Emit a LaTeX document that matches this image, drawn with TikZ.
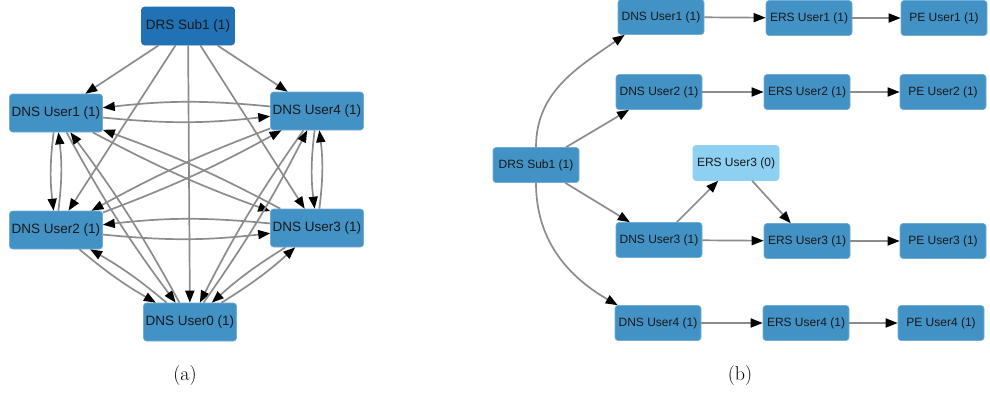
\documentclass[tikz,border=0pt]{standalone}
\usepackage{fontspec}
\setsansfont{Liberation Sans}
\usetikzlibrary{arrows.meta}

\definecolor{nodeblue}{HTML}{4292C6}
\definecolor{subblue}{HTML}{2171B5}
\definecolor{idleblue}{HTML}{8DD0F2}
\definecolor{edgegray}{HTML}{8C8C8C}

\tikzset{
  user/.style={rectangle, rounded corners=3pt, fill=nodeblue, draw=nodeblue!75!white,
    line width=0.6pt, inner sep=0pt, text=black!90},
  biguser/.style={user, minimum width=93pt, minimum height=38pt,
    font=\sffamily\fontsize{13.5}{13.5}\selectfont},
  smalluser/.style={user, minimum width=86pt, minimum height=35pt,
    font=\sffamily\fontsize{12}{12}\selectfont},
  edge/.style={draw=edgegray, line width=1.7pt,
    -{Triangle[length=12pt,width=9pt,color=black]}},
  caption/.style={font=\fontsize{20}{20}\selectfont},
}

\begin{document}
\begin{tikzpicture}[x=1pt,y=1pt]
\useasboundingbox (0,0) rectangle (990,-392);

% (a)
\node[biguser, fill=subblue, draw=subblue] (sub) at (188,-26) {DRS Sub1 (1)};
\node[biguser] (u1) at (56,-113) {DNS User1 (1)};
\node[biguser] (u4) at (317,-111) {DNS User4 (1)};
\node[biguser] (u2) at (56,-230) {DNS User2 (1)};
\node[biguser] (u3) at (317,-228) {DNS User3 (1)};
\node[biguser] (u0) at (190,-322) {DNS User0 (1)};

\draw[edge] (sub) -- (u1);
\draw[edge] (sub) -- (u4);
\draw[edge] (sub) -- (u2);
\draw[edge] (sub) -- (u3);
\draw[edge] (sub) -- (u0);

\draw[edge] (u1) to[bend right=6] (u4);
\draw[edge] (u4) to[bend right=6] (u1);
\draw[edge] (u2) to[bend right=6] (u3);
\draw[edge] (u3) to[bend right=6] (u2);
\draw[edge] (u1) to[bend right=7] (u2);
\draw[edge] (u2) to[bend right=7] (u1);
\draw[edge] (u4) to[bend right=7] (u3);
\draw[edge] (u3) to[bend right=7] (u4);
\draw[edge] (u2) to[bend right=5] (u0);
\draw[edge] (u0) to[bend right=5] (u2);
\draw[edge] (u3) to[bend right=5] (u0);
\draw[edge] (u0) to[bend right=5] (u3);
\draw[edge] (u1) to[bend right=4] (u3);
\draw[edge] (u3) to[bend right=4] (u1);
\draw[edge] (u4) to[bend right=4] (u2);
\draw[edge] (u2) to[bend right=4] (u4);
\draw[edge] (u1) to[bend right=4] (u0);
\draw[edge] (u0) to[bend right=4] (u1);
\draw[edge] (u4) to[bend right=4] (u0);
\draw[edge] (u0) to[bend right=4] (u4);

\node[caption] (capa) at (185,-375) {(a)};

% (b)
\node[smalluser] (bsub) at (536,-165) {DRS Sub1 (1)};
\node[smalluser] (b1) at (661,-17) {DNS User1 (1)};
\node[smalluser] (e1) at (809,-18) {ERS User1 (1)};
\node[smalluser] (p1) at (944,-18) {PE User1 (1)};
\node[smalluser] (b2) at (659,-92) {DNS User2 (1)};
\node[smalluser] (e2) at (807,-92) {ERS User2 (1)};
\node[smalluser] (p2) at (943,-92) {PE User2 (1)};
\node[smalluser, fill=idleblue, draw=idleblue] (e30) at (736,-163) {ERS User3 (0)};
\node[smalluser] (b3) at (659,-240) {DNS User3 (1)};
\node[smalluser] (e3) at (807,-241) {ERS User3 (1)};
\node[smalluser] (p3) at (943,-241) {PE User3 (1)};
\node[smalluser] (b4) at (658,-323) {DNS User4 (1)};
\node[smalluser] (e4) at (806,-323) {ERS User4 (1)};
\node[smalluser] (p4) at (941,-323) {PE User4 (1)};

\draw[edge] (bsub.north) to[out=90,in=-145] ([xshift=7pt]b1.south west);
\draw[edge] (bsub) -- (b2);
\draw[edge] (bsub) -- (b3);
\draw[edge] (bsub.south) to[out=-90,in=150] ([xshift=3pt]b4.north west);

\draw[edge] (b1) -- (e1);
\draw[edge] (e1) -- (p1);
\draw[edge] (b2) -- (e2);
\draw[edge] (e2) -- (p2);
\draw[edge] (b3) -- (e3);
\draw[edge] (e3) -- (p3);
\draw[edge] (b4) -- (e4);
\draw[edge] (e4) -- (p4);
\draw[edge] (b3) -- (e30);
\draw[edge] (e30) -- (e3);

\node[caption] (capb) at (740,-375) {(b)};
\end{tikzpicture}
\end{document}
